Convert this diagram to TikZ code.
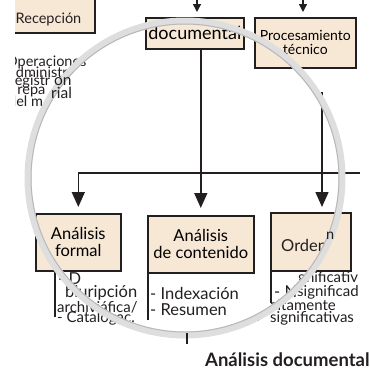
\documentclass[tikz,border=0pt]{standalone}
\usepackage{fontspec}
\setmainfont{Lato}
\usetikzlibrary{positioning,arrows.meta}
\definecolor{beige}{RGB}{247,232,214}
\definecolor{tinta}{RGB}{35,31,32}

\begin{document}
\begin{tikzpicture}[x=1pt,y=-1pt,
  caja/.style={draw=tinta,line width=1.6pt,fill=beige,inner sep=0pt,
    anchor=north west,align=center,font=\fontsize{16.5}{17}\selectfont},
  lista/.style={anchor=west,inner sep=0pt,text=tinta,font=\fontsize{16.5}{17}\selectfont},
  media/.style={lista,font=\fontsize{15}{15}\selectfont},
  chica/.style={anchor=west,inner sep=0pt,text=tinta,font=\fontsize{14.5}{12}\selectfont},
  linea/.style={draw=tinta,line width=1.6pt},
  flecha/.style={linea,-{Triangle[length=15pt,width=13pt]}},
  flechita/.style={linea,-{Triangle[length=8pt,width=8pt]}}]
  \useasboundingbox (0,0) rectangle (370,373);
  % columna izquierda (cortada)
  \begin{scope}
    \clip (15,0) rectangle (370,373);
    \node[caja,minimum width=91pt,minimum height=36pt] (recepcion) at (3,-4) {};
    \node[text=tinta,font=\fontsize{14.5}{16}\selectfont] (recepcionTxt) at (48.5,19) {Recepción};
    \node[chica] (op1) at (6,62) {Operaciones};
    \node[chica] (op2) at (8.5,72) {administr};
    \node[chica] (op3) at (6,82) {Registr};
    \node[chica] (op4) at (6,92) {y repa};
    \node[chica] (op5) at (8,101) {del m};
  \end{scope}
  % cajas de arriba
  \node[caja,minimum width=98pt,minimum height=31pt,font=\fontsize{18}{18}\selectfont] (documental) at (145,17) {documental};
  \node[caja,minimum width=101pt,minimum height=50pt,font=\fontsize{14}{14}\selectfont] (procesamiento) at (254,17) {Procesamiento\\técnico};
  \coordinate (entDoc) at (197,12);
  \coordinate (entProc) at (303,12);
  \draw[flechita] (entDoc) ++(0,-14) -- (entDoc);
  \draw[flechita] (entProc) ++(0,-14) -- (entProc);
  % cajas de abajo
  \node[caja,minimum width=85pt,minimum height=57pt] (formal) at (35,213) {Análisis\\formal};
  \node[caja,minimum width=106pt,minimum height=57pt] (contenido) at (147,215) {Análisis\\de contenido};
  \node[caja,minimum width=80pt,minimum height=58pt] (orden) at (270,212) {};
  \node[lista] (ordenTxt) at (281,245) {Orden};
  % conectores
  \coordinate (bus) at (0,173);
  \coordinate (salProc) at (322,92);
  \coordinate (entOrden) at (322,212);
  \draw[linea] (formal.north |- bus) -- (360,173);
  \draw[flecha,shorten >=6pt] (formal.north |- bus) -- (formal.north);
  \draw[flecha,shorten >=7pt] (documental.south -| contenido.north) -- (contenido.north);
  \draw[flecha,shorten >=5pt] (salProc) -- (entOrden);
  % listas
  \draw[linea] (55,270) -- (55,317);
  \node[lista] (f1) at (58,279) {- D};
  \node[lista] (f2) at (65,293) {biuripción};
  \node[media] (f3) at (57,307) {archiviáfica/};
  \node[media] (f4) at (57,318) {- Catalogac.};
  \draw[linea] (148,272) -- (148,320);
  \node[lista] (c1) at (150,293) {- Indexación};
  \node[lista] (c2) at (150,310) {- Resumen};
  \draw[linea] (271,270) -- (271,303);
  \node[media] (o1) at (298,278) {gnificativ};
  \node[lista] (o2) at (274,292) {- N};
  \node[media] (o3) at (297,292) {significad};
  \node[media] (o4) at (270,305) {altamente};
  \node[media] (o5) at (270,318) {significativas};
  \draw[linea,line width=1.2pt] (258,314) -- (258,321);
  % lupa
  \draw[line width=7pt,black!13] (185,178) circle[radius=157];
  \draw[line width=1pt,black!28] (185,178) circle[radius=154];
  \node[chica,font=\fontsize{15.5}{15}\selectfont] (op3b) at (54,82) {on};
  \node[chica,font=\fontsize{15.5}{15}\selectfont] (op4b) at (51,93) {rial};
  \node[chica] (ordenN) at (326,236) {n};
  % pie
  \draw[linea,line width=1.2pt] (187,333) -- (187,344);
  \node[anchor=west,inner sep=0pt,text=tinta,font=\bfseries\fontsize{18.5}{18}\selectfont] (titulo) at (205,360) {Análisis documental};
\end{tikzpicture}
\end{document}
